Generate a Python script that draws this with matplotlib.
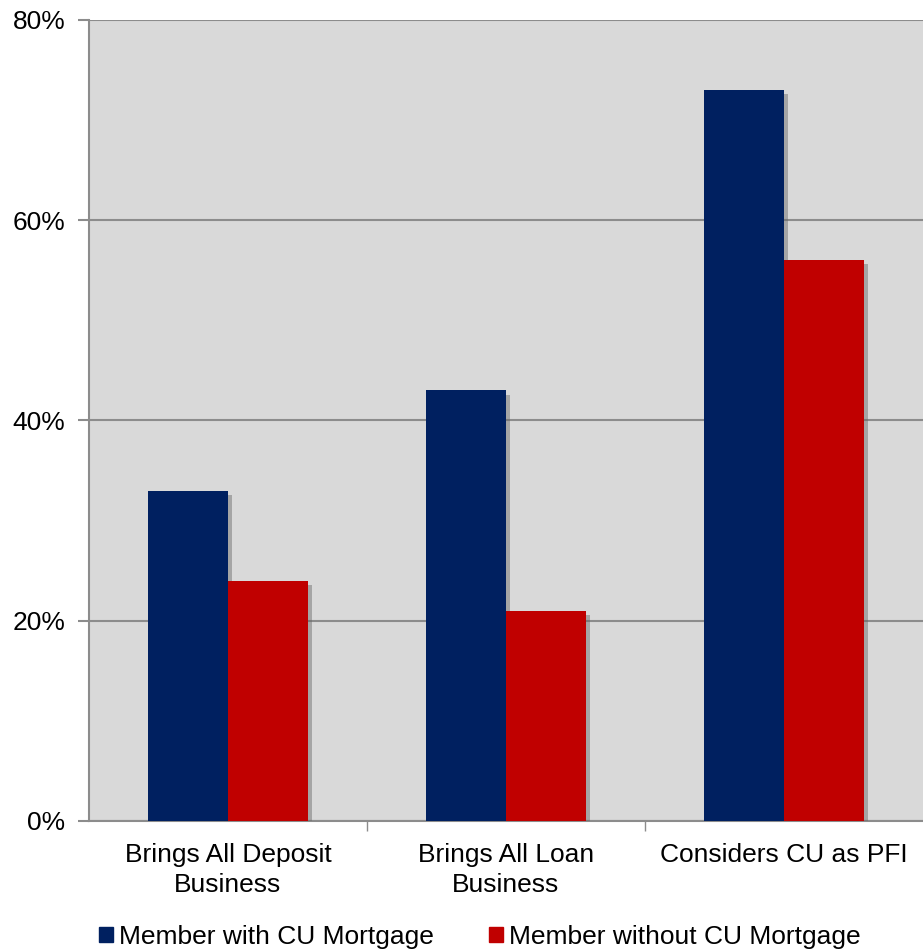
import matplotlib
matplotlib.use("Agg")
import matplotlib.pyplot as plt
import matplotlib.patheffects as pe
from matplotlib.patches import Patch
import numpy as np

categories = ["Brings All Deposit\nBusiness", "Brings All Loan\nBusiness", "Considers CU as PFI"]
with_mortgage = [33, 43, 73]
without_mortgage = [24, 21, 56]
series_names = ["Member with CU Mortgage", "Member without CU Mortgage"]
yticks = [0, 20, 40, 60, 80]
ytick_labels = ["0%", "20%", "40%", "60%", "80%"]

plt.rcParams['font.family'] = ['Liberation Sans', 'DejaVu Sans']

fig = plt.figure(figsize=(9.23, 9.51), dpi=100)
ax = fig.add_axes([89/923, 1-821/951, 1-89/923, (821-20)/951])
ax.set_facecolor('#d9d9d9')

x = np.arange(len(categories))
w = 0.288
shadow = [pe.SimplePatchShadow(offset=(3, -3), shadow_rgbFace='#666666', alpha=0.45), pe.Normal()]
b1 = ax.bar(x - w/2, with_mortgage, w, color='#002060', zorder=3)
b2 = ax.bar(x + w/2, without_mortgage, w, color='#c00000', zorder=3)
for b in list(b1) + list(b2):
    b.set_path_effects(shadow)

ax.set_xlim(-0.5, 2.5)
ax.set_ylim(0, 80)
ax.set_yticks(yticks)
ax.set_yticklabels(ytick_labels, fontsize=19)
ax.yaxis.grid(True, color='#8c8c8c', linewidth=1.5, zorder=0)
ax.set_axisbelow(True)

ax.set_xticks(x)
ax.set_xticklabels(categories, fontsize=19, linespacing=1.28)
ax.tick_params(axis='x', length=0, pad=16)
ax.set_xticks([0.5, 1.5], minor=True)
ax.tick_params(axis='x', which='minor', length=7, color='#8c8c8c', width=1)
ax.tick_params(axis='y', length=8, color='#8c8c8c', width=1.5, pad=9)

for s in ['top', 'right']:
    ax.spines[s].set_visible(False)
for s in ['left', 'bottom']:
    ax.spines[s].set_color('#8c8c8c')
    ax.spines[s].set_linewidth(1.5)

handles = [Patch(color='#002060'), Patch(color='#c00000')]
fig.legend(handles, series_names, loc='center', bbox_to_anchor=(479.5/923, 1-937/951),
           ncol=2, frameon=False, fontsize=19, handlelength=0.53, handleheight=0.53,
           handletextpad=0.23, columnspacing=2.08)

fig.savefig('out.png', dpi=100)
